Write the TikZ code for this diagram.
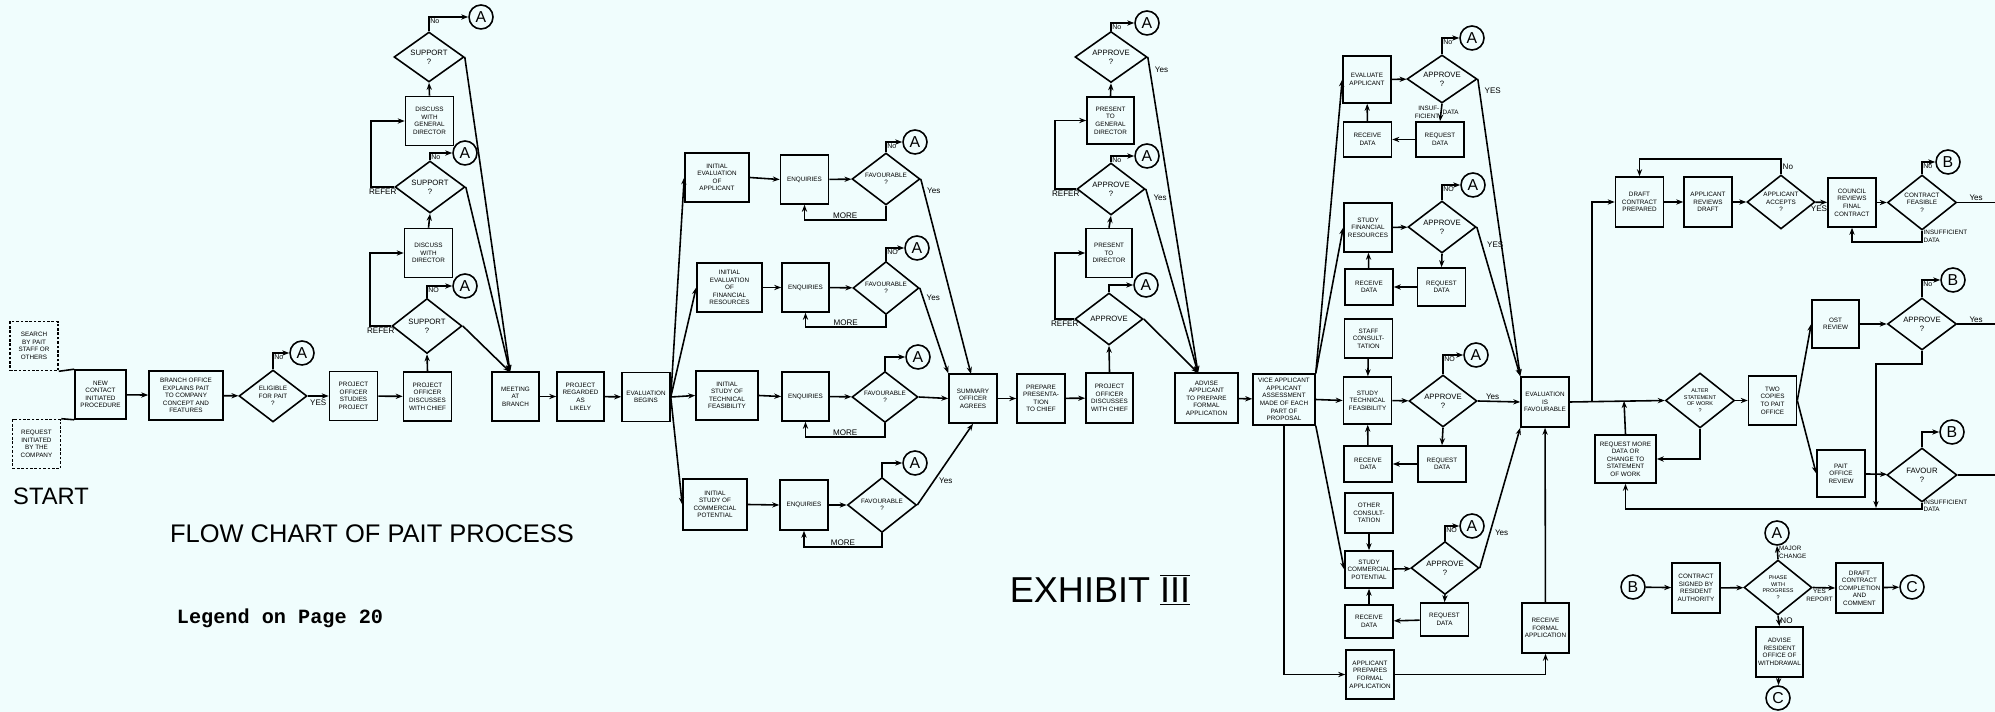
\documentclass[tikz,border=0pt]{standalone}
\usepackage{fontspec}
\setmainfont{Liberation Sans}
\newfontfamily\typew{Liberation Mono}
\usetikzlibrary{positioning,shapes.geometric,arrows.meta}
\definecolor{paper}{RGB}{240,253,253}
\newcommand{\boxfont}{\fontsize{3.6}{4.3}\selectfont}
\newcommand{\bigdec}{\fontsize{4.4}{5.2}\selectfont}
\newcommand{\smalldec}{\fontsize{3.1}{3.7}\selectfont}
\newcommand{\lblfont}{\fontsize{4.6}{5}\selectfont}

\begin{document}
\begin{tikzpicture}[x=0.02cm, y=-0.02cm, line width=0.9pt,
  >={Stealth[length=4pt,width=3pt]},
  box/.style={draw, minimum width=0.96cm, minimum height=0.98cm, align=center, inner sep=0.5pt, font=\boxfont},
  dbox/.style={box, dash pattern=on 1.5pt off 1pt},
  dec/.style={draw, diamond, aspect=1.3, minimum width=1.36cm, minimum height=1.04cm, inner sep=0pt, align=center, font=\boxfont},
  conn/.style={draw, circle, minimum size=0.48cm, inner sep=0pt, font=\fontsize{9}{9}\selectfont},
  lbl/.style={font=\lblfont, inner sep=0.5pt},
  slbl/.style={font=\boxfont, inner sep=0.5pt, align=left},
  nolbl/.style={font=\fontsize{4}{4}\selectfont, inner sep=0.3pt, pos=0.5, below right}
]
  \fill[paper] (0,0) rectangle (1995,712);
  \useasboundingbox (0,0) rectangle (1995,712);

  % start of the process
  \node[dbox] (start1) at (34,346) {SEARCH\\BY PAIT\\STAFF OR\\OTHERS};
  \node[dbox] (start2) at (36.5,444) {REQUEST\\INITIATED\\BY THE\\COMPANY};
  \node[box, minimum width=1.02cm] (newc) at (100.5,394.5) {NEW\\CONTACT\\INITIATED\\PROCEDURE};
  \node[box, minimum width=1.48cm] (branch) at (186,395.5) {BRANCH OFFICE\\EXPLAINS PAIT\\TO COMPANY\\CONCEPT AND\\FEATURES};
  \node[dec] (elig) at (273,396) {ELIGIBLE\\FOR PAIT\\?};
  \node[conn] (a0) at (302,353) {A};
  \node[box] (po1) at (353.5,396) {PROJECT\\OFFICER\\STUDIES\\PROJECT};
  \node[box] (pochief) at (427.5,396.5) {PROJECT\\OFFICER\\DISCUSSES\\WITH CHIEF};
  \node[dec, font=\bigdec, minimum width=1.4cm, minimum height=1.1cm] (sup3) at (427,326) {SUPPORT\\?};
  \node[box] (discdir) at (428.5,253) {DISCUSS\\WITH\\DIRECTOR};
  \node[dec, font=\bigdec, minimum width=1.4cm, minimum height=1.04cm] (sup2) at (430,187) {SUPPORT\\?};
  \node[box] (discgd) at (429.5,121) {DISCUSS\\WITH\\GENERAL\\DIRECTOR};
  \node[dec, font=\bigdec, minimum width=1.4cm, minimum height=1cm] (sup1) at (429,57) {SUPPORT\\?};
  \node[conn] (a1) at (481,17) {A};
  \node[conn] (a2) at (465,153) {A};
  \node[conn] (a3) at (465,286) {A};
  \node[box, minimum width=0.94cm] (meet) at (515.5,396.5) {MEETING\\AT\\BRANCH};
  \node[box, minimum width=0.94cm] (likely) at (580.5,396.5) {PROJECT\\REGARDED\\AS\\LIKELY};
  \node[box] (evbeg) at (646,397) {EVALUATION\\BEGINS};
  \coordinate (mtop) at (510,372);

  \draw (start1.south east) -- (newc.north west);
  \draw (start2.north east) -- (newc.south west);
  \draw[->] (newc) -- (branch);
  \draw[->] (branch) -- (elig);
  \draw[->] (elig) -- node[lbl, below=1pt] {YES} (po1);
  \draw[->] (elig.north) |- node[nolbl] {No} (a0.west);
  \draw[->] (po1) -- (pochief);
  \draw[->] (pochief.north) -- (sup3.south);
  \draw[->] (sup3.west) -- node[lbl, below] {REFER} ++(-21,0) |- (discdir.west);
  \draw[->] (discdir.north) -- (sup2.south);
  \draw[->] (sup2.west) -- node[lbl, below] {REFER} ++(-23,0) |- (discgd.west);
  \draw[->] (discgd.north) -- (sup1.south);
  \draw[->] (sup1.north) |- node[nolbl] {No} (a1.west);
  \draw[->] (sup2.north) |- node[nolbl] {No} (a2.west);
  \draw[->] (sup3.north) |- node[nolbl] {NO} (a3.west);
  \draw[->] (sup1.east) -- (mtop);
  \draw[->] (sup2.east) -- (mtop);
  \draw[->] (sup3.east) -- (mtop);
  \draw[->] (meet) -- (likely);
  \draw[->] (likely) -- (evbeg);

  % initial evaluation
  \node[box, minimum width=1.28cm] (ie1) at (717,177.5) {INITIAL\\EVALUATION\\OF\\APPLICANT};
  \node[box, minimum width=1.3cm] (ie2) at (729.5,287.5) {INITIAL\\EVALUATION\\OF\\FINANCIAL\\RESOURCES};
  \node[box, minimum width=1.24cm] (ie3) at (727,395.5) {INITIAL\\STUDY OF\\TECHNICAL\\FEASIBILITY};
  \node[box, minimum width=1.28cm, minimum height=1.02cm] (ie4) at (715,504.5) {INITIAL\\STUDY OF\\COMMERCIAL\\POTENTIAL};
  \node[box] (enq1) at (804.5,179.5) {ENQUIRIES};
  \node[box, minimum width=0.94cm] (enq2) at (805.5,287.5) {ENQUIRIES};
  \node[box, minimum width=0.94cm] (enq3) at (805.5,396.5) {ENQUIRIES};
  \node[box, minimum height=1cm] (enq4) at (804,505) {ENQUIRIES};
  \node[dec] (fav1) at (886,179) {FAVOURABLE\\?};
  \node[dec, minimum width=1.32cm, minimum height=1.06cm] (fav2) at (886,288) {FAVOURABLE\\?};
  \node[dec, minimum width=1.32cm, minimum height=1.02cm] (fav3) at (885,397) {FAVOURABLE\\?};
  \node[dec, minimum width=1.38cm, minimum height=1.1cm] (fav4) at (882,505) {FAVOURABLE\\?};
  \node[conn] (af1) at (915,142) {A};
  \node[conn] (af2) at (917,248) {A};
  \node[conn] (af3) at (918,357) {A};
  \node[conn] (af4) at (915,463) {A};
  \node[box] (summ) at (973,398.5) {SUMMARY\\OFFICER\\AGREES};
  \node[box] (prep) at (1041,398.5) {PREPARE\\PRESENTA-\\TION\\TO CHIEF};
  \node[box, minimum width=0.94cm, minimum height=1cm] (pochief2) at (1109.5,398) {PROJECT\\OFFICER\\DISCUSSES\\WITH CHIEF};
  \coordinate (s1) at (971,374);

  \draw[->] (evbeg.east) -- (ie1.west);
  \draw[->] (evbeg.east) -- (ie2.west);
  \draw[->] (evbeg.east) -- (ie3.west);
  \draw[->] (evbeg.east) -- (ie4.west);
  \draw[->] (ie1.east) -- (enq1.west);
  \draw[->] (ie2.east) -- (enq2.west);
  \draw[->] (ie3.east) -- (enq3.west);
  \draw[->] (ie4.east) -- (enq4.west);
  \draw[->] (enq1) -- (fav1);
  \draw[->] (enq2) -- (fav2);
  \draw[->] (enq3) -- (fav3);
  \draw[->] (enq4) -- (fav4);
  \draw[->] (fav1.north) |- node[nolbl] {No} (af1.west);
  \draw[->] (fav2.north) |- node[nolbl] {NO} (af2.west);
  \draw[->] (fav3.north) |- (af3.west);
  \draw[->] (fav4.north) |- (af4.west);
  \draw[->] (fav1.south) -- ++(0,14) -| node[lbl, pos=0.25, above] {MORE} (enq1.south);
  \draw[->] (fav2.south) -- ++(0,12) -| node[lbl, pos=0.25, above] {MORE} (enq2.south);
  \draw[->] (fav3.south) -- ++(0,14) -| node[lbl, pos=0.25, above] {MORE} (enq3.south);
  \draw[->] (fav4.south) -- ++(0,14) -| node[lbl, pos=0.25, above] {MORE} (enq4.south);
  \draw[->] (fav1.east) -- node[lbl, pos=0.06, right=1pt] {Yes} (s1);
  \draw[->] (fav2.east) -- node[lbl, pos=0.12, right=1pt] {Yes} (summ.north west);
  \draw[->] (fav3.east) -- (summ.west);
  \draw[->] (fav4.east) -- node[lbl, pos=0.3, right=2pt] {Yes} (summ.south);
  \draw[->] (summ) -- (prep);
  \draw[->] (prep) -- (pochief2);

  % approval by chief and directors
  \node[dec, font=\bigdec] (app3) at (1109,319) {APPROVE};
  \node[box, minimum width=0.92cm] (presdir) at (1109,253) {PRESENT\\TO\\DIRECTOR};
  \node[dec, font=\bigdec] (app2) at (1111,189) {APPROVE\\?};
  \node[box, minimum width=0.94cm, minimum height=0.94cm] (presgd) at (1110.5,120.5) {PRESENT\\TO\\GENERAL\\DIRECTOR};
  \node[dec, font=\bigdec, minimum width=1.44cm, minimum height=1.02cm] (app1) at (1111,57) {APPROVE\\?};
  \node[conn] (aa1) at (1147,23) {A};
  \node[conn] (aa2) at (1147,156) {A};
  \node[conn] (aa3) at (1146,285) {A};
  \node[box, minimum width=1.26cm, minimum height=1cm] (advise) at (1206.5,398) {ADVISE\\APPLICANT\\TO PREPARE\\FORMAL\\APPLICATION};
  \coordinate (atop) at (1198,373);

  \draw[->] (pochief2.north) -- (app3.south);
  \draw[->] (app3.west) -- node[lbl, below] {REFER} ++(-19,0) |- (presdir.west);
  \draw[->] (presdir.north) -- (app2.south);
  \draw[->] (app2.west) -- node[lbl, below] {REFER} ++(-21,0) |- (presgd.west);
  \draw[->] (presgd.north) -- (app1.south);
  \draw[->] (app1.north) |- node[nolbl] {No} (aa1.west);
  \draw[->] (app2.north) |- node[nolbl] {No} (aa2.west);
  \draw[->] (app3.north) |- (aa3.west);
  \draw[->] (app1.east) -- node[lbl, pos=0.04, right=2pt] {Yes} (atop);
  \draw[->] (app2.east) -- node[lbl, pos=0.05, right=2pt] {Yes} (atop);
  \draw[->] (app3.east) -- (atop);

  % assessment of the formal proposal
  \node[box, minimum width=1.24cm, minimum height=1.02cm] (vice) at (1284,399.5) {VICE APPLICANT\\APPLICANT\\ASSESSMENT\\MADE OF EACH\\PART OF\\PROPOSAL};
  \node[box, minimum height=0.94cm] (evapp) at (1367,79.5) {EVALUATE\\APPLICANT};
  \node[dec, font=\bigdec, minimum width=1.4cm, minimum height=0.96cm] (aq1) at (1442,79) {APPROVE\\?};
  \node[box, minimum height=0.7cm] (rq1) at (1440,139.5) {REQUEST\\DATA};
  \node[box, minimum height=0.7cm] (rc1) at (1367.5,139.5) {RECEIVE\\DATA};
  \node[conn] (aq1a) at (1472,38) {A};
  \node[box] (sfin) at (1368,227.5) {STUDY\\FINANCIAL\\RESOURCES};
  \node[dec, font=\bigdec] (aq2) at (1442,227) {APPROVE\\?};
  \node[box, minimum height=0.76cm] (rq2) at (1441.5,287) {REQUEST\\DATA};
  \node[box, minimum height=0.72cm] (rc2) at (1369,287) {RECEIVE\\DATA};
  \node[box, minimum height=0.78cm] (staff) at (1368.5,338.5) {STAFF\\CONSULT-\\TATION};
  \node[conn] (aq2a) at (1473,185) {A};
  \node[box, minimum height=0.94cm] (stech) at (1367.5,400.5) {STUDY\\TECHNICAL\\FEASIBILITY};
  \node[dec, font=\bigdec] (aq3) at (1443,401) {APPROVE\\?};
  \node[box, minimum height=0.72cm] (rq3) at (1442,464) {REQUEST\\DATA};
  \node[box, minimum height=0.72cm] (rc3) at (1368,464) {RECEIVE\\DATA};
  \node[box, minimum height=0.8cm] (other) at (1369,513) {OTHER\\CONSULT-\\TATION};
  \node[conn] (aq3a) at (1476,355) {A};
  \node[box, minimum height=0.74cm] (scom) at (1369,569.5) {STUDY\\COMMERCIAL\\POTENTIAL};
  \node[dec, font=\bigdec, minimum height=1.06cm] (aq4) at (1445,568) {APPROVE\\?};
  \node[box, minimum height=0.66cm] (rq4) at (1444.5,619.5) {REQUEST\\DATA};
  \node[box, minimum height=0.66cm] (rc4) at (1369,621.5) {RECEIVE\\DATA};
  \node[conn] (aq4a) at (1472,526) {A};
  \node[box] (prepf) at (1370,674.5) {APPLICANT\\PREPARES\\FORMAL\\APPLICATION};
  \node[box, minimum width=0.94cm, minimum height=1cm] (recf) at (1545.5,628) {RECEIVE\\FORMAL\\APPLICATION};
  \node[box, minimum height=1cm] (evfav) at (1545,402) {EVALUATION\\IS\\FAVOURABLE};

  \draw[->] (advise) -- (vice);
  \draw[->] (vice.north east) -- (evapp.west);
  \draw[->] (vice.north east) -- (sfin.west);
  \draw[->] (vice.east) -- (stech.west);
  \draw[->] (vice.south east) -- (scom.west);
  \draw[->] (vice.south) |- (prepf.west);
  \draw[->] (prepf.east) -| (recf.south);
  \draw[->] (recf) -- (evfav);

  \draw[->] (evapp) -- (aq1);
  \draw[->] (aq1.south) -- node[slbl, left, align=right] {INSUF-\\FICIENT} node[slbl, right] {DATA} (rq1.north);
  \draw[->] (rq1) -- (rc1);
  \draw[->] (rc1) -- (evapp);
  \draw[->] (aq1.north) |- node[nolbl] {No} (aq1a.west);
  \draw[->] (sfin) -- (aq2);
  \draw[->] (aq2.south) -- (rq2.north);
  \draw[->] (rq2) -- (rc2);
  \draw[->] (rc2) -- (sfin);
  \draw[->] (aq2.north) |- node[nolbl] {NO} (aq2a.west);
  \draw[->] (staff) -- (stech);
  \draw[->] (stech) -- (aq3);
  \draw[->] (aq3.south) -- (rq3.north);
  \draw[->] (rq3) -- (rc3);
  \draw[->] (rc3) -- (stech);
  \draw[->] (aq3.north) |- node[nolbl] {NO} (aq3a.west);
  \draw[->] (other) -- (scom);
  \draw[->] (scom) -- (aq4);
  \draw[->] (aq4.south) -- (rq4.north);
  \draw[->] (rq4) -- (rc4);
  \draw[->] (rc4) -- (scom);
  \draw[->] (aq4.north) |- node[nolbl] {NO} (aq4a.west);
  \draw[->] (aq1.east) -- node[lbl, pos=0.04, right=2pt] {YES} (evfav.north west);
  \draw[->] (aq2.east) -- node[lbl, pos=0.12, right=2pt] {YES} (evfav.north west);
  \draw[->] (aq3.east) -- node[lbl, pos=0.35, above] {Yes} (evfav.west);
  \draw[->] (aq4.east) -- node[lbl, pos=0.25, right=2pt] {Yes} (evfav.south west);

  % contract stage
  \coordinate (jn) at (1592,401);
  \coordinate (jn2) at (1624,401);
  \node[box, minimum height=1cm] (draft) at (1639.5,202) {DRAFT\\CONTRACT\\PREPARED};
  \node[box, minimum height=1cm] (revdraft) at (1708,202) {APPLICANT\\REVIEWS\\DRAFT};
  \node[dec, minimum height=1.08cm] (accept) at (1781,202) {APPLICANT\\ACCEPTS\\?};
  \node[box] (council) at (1852,202.5) {COUNCIL\\REVIEWS\\FINAL\\CONTRACT};
  \node[dec, minimum width=1.38cm, minimum height=1.1cm] (feas) at (1922,202.5) {CONTRACT\\FEASIBLE\\?};
  \node[conn] (b1) at (1948,162) {B};
  \coordinate (out1) at (1995,202.5);
  \node[dec, font=\smalldec, minimum width=1.38cm, minimum height=1.1cm] (alter) at (1700,400.5) {ALTER\\STATEMENT\\OF WORK\\?};
  \node[box] (copies) at (1772.5,400.5) {TWO\\COPIES\\TO PAIT\\OFFICE};
  \node[box, minimum width=1.22cm, minimum height=0.96cm] (reqalt) at (1625.5,459) {REQUEST MORE\\DATA OR\\CHANGE TO\\STATEMENT\\OF WORK};
  \node[box, minimum width=0.94cm, minimum height=0.96cm] (ost) at (1835.5,324) {OST\\REVIEW};
  \node[dec, font=\bigdec, minimum width=1.38cm] (ostapp) at (1922,324) {APPROVE\\?};
  \node[conn] (b2) at (1953,280) {B};
  \node[box, minimum height=0.94cm] (paitoff) at (1841,473.5) {PAIT\\OFFICE\\REVIEW};
  \node[dec, font=\bigdec, minimum width=1.4cm, minimum height=1.08cm] (favour) at (1922,475) {FAVOUR\\?};
  \node[conn] (b3) at (1952,432) {B};
  \coordinate (out2) at (1995,324);
  \coordinate (out3) at (1995,475);
  \coordinate (ib) at (1876,508);

  \draw[->] (evfav.east) -- (alter.west);
  \draw[->] (jn) |- (draft.west);
  \draw[->] (draft) -- (revdraft);
  \draw[->] (revdraft) -- (accept);
  \draw[->] (accept) -- node[lbl, pos=0.3, below=1pt] {YES} (council);
  \draw[->] (accept.north) -- node[lbl, right] {No} ++(0,-15) -| (draft.north);
  \draw[->] (council) -- (feas);
  \draw[->] (feas.north) |- node[nolbl] {No} (b1.west);
  \draw (feas.east) -- node[lbl, above] {Yes} (out1);
  \draw[->] (feas.south) -- node[slbl, right] {INSUFFICIENT\\DATA} ++(0,11) -| (council.south);
  \draw[->] (alter) -- (copies);
  \draw[->] (alter.south) |- (reqalt.east);
  \draw[->] (reqalt.north) -- (jn2);
  \draw[->] (copies.east) -- (ost.west);
  \draw[->] (copies.east) -- (paitoff.west);
  \draw[->] (ost) -- (ostapp);
  \draw[->] (paitoff) -- (favour);
  \draw[->] (ostapp.north) |- node[nolbl] {No} (b2.west);
  \draw[->] (favour.north) |- (b3.west);
  \draw (ostapp.east) -- node[lbl, above] {Yes} (out2);
  \draw (favour.east) -- (out3);
  \draw[->] (ostapp.south) -- ++(0,13) -| (ib);
  \draw[->] (favour.south) -- node[slbl, right] {INSUFFICIENT\\DATA} ++(0,6) -| (reqalt.south);

  % phases of the contract
  \node[conn] (bin) at (1633,587) {B};
  \node[box, minimum height=1cm] (cancel) at (1696,588) {CONTRACT\\SIGNED BY\\RESIDENT\\AUTHORITY};
  \node[dec, font=\smalldec, minimum height=1.1cm] (phase) at (1778,587.5) {PHASE\\WITH\\PROGRESS\\?};
  \node[conn] (atop2) at (1777,533) {A};
  \node[box, minimum width=0.94cm, minimum height=1cm] (draft2) at (1859.5,588) {DRAFT\\CONTRACT\\COMPLETION\\AND\\COMMENT};
  \node[conn] (c1) at (1912,587) {C};
  \node[box, minimum width=0.94cm, minimum height=1cm] (advise2) at (1779.5,652) {ADVISE\\RESIDENT\\OFFICE OF\\WITHDRAWAL};
  \node[conn] (c2) at (1778,698) {C};

  \draw[->] (bin) -- (cancel);
  \draw[->] (cancel) -- (phase);
  \draw[->] (phase.north) -- node[slbl, right] {MAJOR\\CHANGE} (atop2.south);
  \draw[->] (phase.east) -- node[slbl, pos=0.3, below, align=center] {YES\\REPORT} (draft2.west);
  \draw[->] (draft2) -- (c1);
  \draw[->] (phase.south) -- node[lbl, right] {NO} (advise2.north);
  \draw[->] (advise2) -- (c2);

  % titles
  \node[font=\fontsize{13.5}{14}\selectfont] (start) at (51,496) {START};
  \node[font=\fontsize{14.5}{15}\selectfont] (title) at (372,534) {FLOW CHART OF PAIT PROCESS};
  \node[font=\typew\bfseries\fontsize{11.5}{12}\selectfont] (legend) at (280,618) {Legend on Page 20};
  \node[font=\fontsize{20.5}{21}\selectfont] (exhibit) at (1100,590) {EXHIBIT $\overline{\underline{\hbox{III}}}$};
\end{tikzpicture}
\end{document}
